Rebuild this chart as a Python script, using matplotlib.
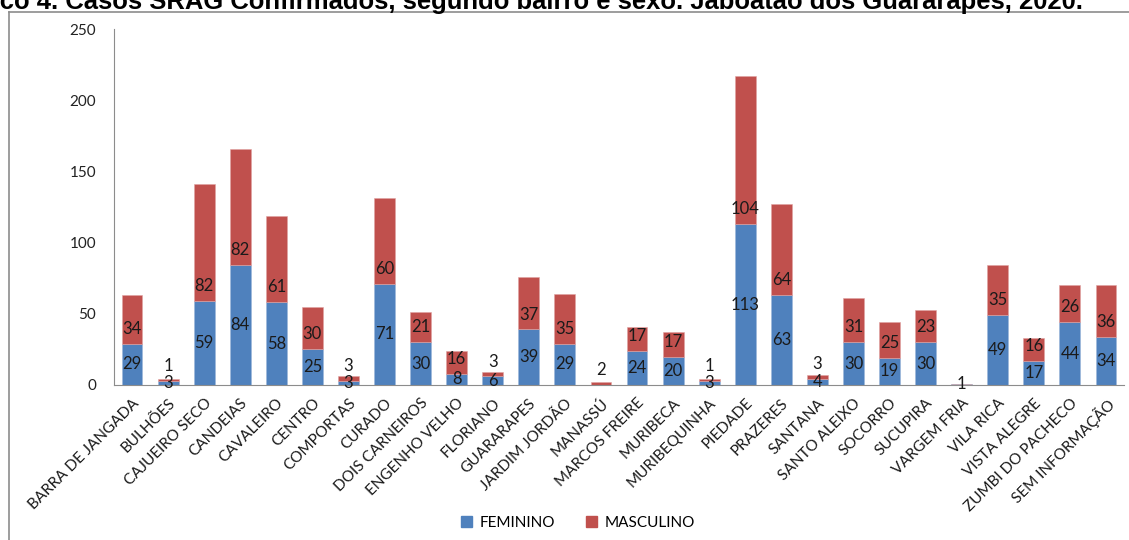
import matplotlib
matplotlib.use("Agg")
import matplotlib.pyplot as plt
from matplotlib.lines import Line2D
from matplotlib.patches import Patch
import numpy as np

categories = ["BARRA DE JANGADA", "BULHÕES", "CAJUEIRO SECO", "CANDEIAS", "CAVALEIRO",
              "CENTRO", "COMPORTAS", "CURADO", "DOIS CARNEIROS", "ENGENHO VELHO",
              "FLORIANO", "GUARARAPES", "JARDIM JORDÃO", "MANASSÚ", "MARCOS FREIRE",
              "MURIBECA", "MURIBEQUINHA", "PIEDADE", "PRAZERES", "SANTANA",
              "SANTO ALEIXO", "SOCORRO", "SUCUPIRA", "VARGEM FRIA", "VILA RICA",
              "VISTA ALEGRE", "ZUMBI DO PACHECO", "SEM INFORMAÇÃO"]
feminino = [29, 3, 59, 84, 58, 25, 3, 71, 30, 8, 6, 39, 29, 0, 24, 20, 3, 113, 63, 4,
            30, 19, 30, 1, 49, 17, 44, 34]
masculino = [34, 1, 82, 82, 61, 30, 3, 60, 21, 16, 3, 37, 35, 2, 17, 17, 1, 104, 64, 3,
             31, 25, 23, 0, 35, 16, 26, 36]
yticks = [0, 50, 100, 150, 200, 250]
title = "Gráfico 4. Casos SRAG Confirmados, segundo bairro e sexo. Jaboatão dos Guararapes, 2020."

W, H = 1129, 540
BLUE = "#4F81BD"
RED = "#C0504D"
FONT = "Lato"

fig = plt.figure(figsize=(W / 100, H / 100), dpi=100)
ax = fig.add_axes([114 / W, 155 / H, (1124 - 114) / W, (385 - 29) / H])

x = np.arange(len(categories))
f = np.array(feminino)
m = np.array(masculino)
width = 0.58
ax.bar(x, f, width, color=BLUE, edgecolor="#9db7db", linewidth=0.4, label="FEMININO")
ax.bar(x, m, width, bottom=f, color=RED, edgecolor="#e0a3a2", linewidth=0.4, label="MASCULINO")

for i in range(len(categories)):
    if f[i] > 0:
        ax.text(x[i], f[i] / 2, str(f[i]), ha="center", va="center", fontsize=12,
                family=FONT, color="#1a1a1a")
    if m[i] > 0:
        ax.text(x[i], f[i] + 10.5, str(m[i]), ha="center", va="center", fontsize=12,
                family=FONT, color="#1a1a1a")

ax.set_xlim(-0.5, len(categories) - 0.5)
ax.set_ylim(0, 250)
ax.set_yticks(yticks)
ax.set_yticklabels([str(v) for v in yticks], family=FONT, fontsize=11, color="#222222")
ax.tick_params(axis="y", length=0, pad=13)
ax.set_xticks(x)
ax.set_xticklabels(categories, rotation=45, ha="right", va="top", rotation_mode="anchor",
                   family=FONT, fontsize=11, color="#1a1a1a")
ax.tick_params(axis="x", length=0, pad=8)
for s in ["top", "right"]:
    ax.spines[s].set_visible(False)
ax.spines["left"].set_color("#8c8c8c")
ax.spines["bottom"].set_color("#8c8c8c")

handles = [Patch(color=BLUE, label="FEMININO"), Patch(color=RED, label="MASCULINO")]
fig.legend(handles=handles, loc="center", bbox_to_anchor=(578 / W, 1 - 523 / H), ncol=2,
           frameon=False, prop={"family": FONT, "size": 11}, handlelength=0.7,
           handleheight=0.7, columnspacing=2.0, handletextpad=0.5)

# outer frame (partially cut off)
fig.add_artist(Line2D([8.5 / W, 8.5 / W], [0, 1 - 12 / H], color="#8c8c8c", lw=1.2,
                      transform=fig.transFigure))
fig.add_artist(Line2D([8.5 / W, 1], [1 - 12 / H, 1 - 12 / H], color="#8c8c8c", lw=1.2,
                      transform=fig.transFigure))

# title, partly cut off on the left and top as in the reference
renderer = fig.canvas.get_renderer()
prefix = "Gráfi"
probe_full = fig.text(0, 0, title, fontsize=10, family="Liberation Sans", weight="bold")
probe_pre = fig.text(0, 0, prefix, fontsize=10, family="Liberation Sans", weight="bold")
wf = probe_full.get_window_extent(renderer).width
wp = probe_pre.get_window_extent(renderer).width
probe_full.remove()
probe_pre.remove()
fs = 10 * 1085 / (wf - wp)
wp_scaled = wp * fs / 10
fig.text(-wp_scaled / W, 1 - 9 / H, title, fontsize=fs, family="Liberation Sans",
         weight="bold", ha="left", va="baseline", color="black")

fig.savefig("out.png", dpi=100)
